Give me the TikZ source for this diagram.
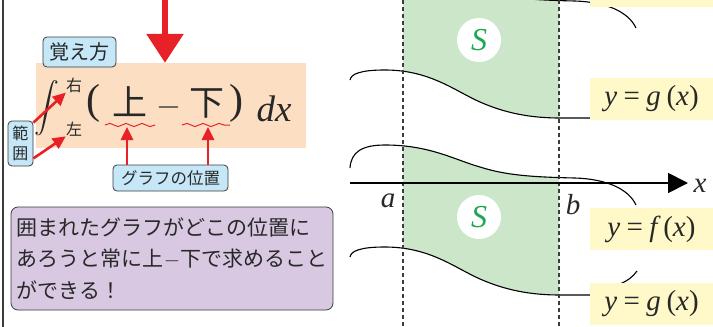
\RequirePackage{fix-cm}
\documentclass[tikz,border=0pt]{standalone}
\usepackage{exscale}
\usepackage{fontspec}
\newfontfamily\jp{Noto Sans CJK JP}
\newfontfamily\tms{Liberation Serif}
\usetikzlibrary{arrows.meta,decorations.pathmorphing}
\definecolor{myred}{RGB}{232,32,40}
\definecolor{peach}{RGB}{252,223,195}
\definecolor{lblue}{RGB}{197,231,247}
\definecolor{lpurple}{RGB}{216,200,226}
\definecolor{lgreen}{RGB}{204,230,201}
\definecolor{sgreen}{RGB}{30,168,80}
\definecolor{lyellow}{RGB}{255,249,201}
\definecolor{dgray}{RGB}{60,60,60}
\definecolor{tgray}{RGB}{40,40,40}
\newcommand\myfs[1]{\fontsize{#1}{#1}\selectfont}
\newcommand\eqlab[1]{\itshape y\hspace{0.22em}\upshape=\hspace{0.22em}\itshape #1\hspace{0.2em}\upshape(\itshape x\upshape)}
\def\fcurve{(350,168) .. controls (351,152) and (362,145) .. (385,145) .. controls (430,145) and (455,160) .. (480,167) .. controls (505,175) and (530,177) .. (575,178) .. controls (605,179) and (628,188) .. (636,205)}
\def\gcurve{(350,257) .. controls (351,251) and (360,247) .. (385,247) .. controls (430,247) and (455,268) .. (480,279) .. controls (505,290) and (530,295) .. (560,295) -- (595,295)}
\def\farc{(637,271) .. controls (633,277) and (627,281) .. (620,284)}
\newcommand\mygraph{%
  \begin{scope}
    \clip (403,-400) rectangle (559,500);
    \clip \gcurve -- (595,-400) -- (350,-400) -- cycle;
    \fill[lgreen] \fcurve -- (636,500) -- (350,500) -- cycle;
  \end{scope}
  \draw[crv] \fcurve;
  \draw[crv] \gcurve;
  \draw[crv] \farc;
}
\begin{document}
\begin{tikzpicture}[x=1pt,y=-1pt,
  bluebox/.style={draw=dgray, fill=lblue, rounded corners=4pt, line width=0.8pt, inner sep=0pt, text=tgray},
  ybox/.style={fill=lyellow, minimum width=123pt, minimum height=42pt, inner sep=0pt, font={\tms\myfs{29}}, text=tgray},
  scirc/.style={circle, fill=white, minimum size=44pt, inner sep=0pt, text=sgreen, font={\tms\itshape\myfs{32}}},
  redarr/.style={draw=myred, line width=2.6pt, -{Triangle[length=13pt,width=12pt]}},
  bigarr/.style={draw=myred, line width=6pt, -{Triangle[length=29pt,width=36pt]}},
  wave/.style={draw=myred, line width=1pt, decorate, decoration={snake, segment length=16pt, amplitude=1.6pt}},
  crv/.style={line width=1.1pt, black},
  vdash/.style={draw=dgray, line width=1.2pt, dash pattern=on 4pt off 3pt},
  axisline/.style={line width=1.8pt, -{Triangle[length=20pt,width=20pt]}},
  cjk/.style={font={\jp\myfs{#1}}, text=tgray, inner sep=0pt},
  mth/.style={font={\myfs{#1}}, inner sep=0pt, text=tgray},
  lat/.style={font={\tms\itshape\myfs{#1}}, inner sep=0pt, text=tgray},
  latup/.style={font={\tms\myfs{#1}}, inner sep=0pt, text=tgray}]
\useasboundingbox (0,0) rectangle (713,327);
\clip (0,0) rectangle (713,327);
% left border
\draw[line width=2pt, dgray] (3,0) -- (3,327);
% peach background
\node[fill=peach, minimum width=270pt, minimum height=85pt, inner sep=0pt] (peach) at (171,105.5) {};
% big arrow
\coordinate (bigtop) at (165,-2);
\draw[bigarr] (bigtop) -- (bigtop |- peach.north);
% label boxes
\node[bluebox, minimum width=73pt, minimum height=30pt, font={\jp\myfs{20}}] (oboe) at (79.5,52) {覚え方};
\node[bluebox, minimum width=25pt, minimum height=45pt, align=center, font={\jp\fontsize{16}{20}\selectfont}] (hanni) at (20.5,143.5) {範\\囲};
\node[bluebox, minimum width=115pt, minimum height=26pt, font={\jp\myfs{16.5}}] (gbox) at (170.5,178) {グラフの位置};
% formula
\node[mth=26] (int) at (47,108) {$\displaystyle\int$};
\node[cjk=16] (r) at (74,85) {右};
\node[cjk=16] (l) at (74,129) {左};
\node[latup=42] (lp) at (93,103) {(};
\node[cjk=35] (ue) at (130,102) {上};
\node[mth=32] (minus) at (169,107) {$-$};
\node[cjk=35] (shita) at (207,103) {下};
\node[latup=42] (rp) at (236,103) {)};
\node[lat=37] (dx) at (274,108.5) {dx};
% wavy underlines
\coordinate (w1a) at (105,125);
\coordinate (w1b) at (155,125);
\coordinate (w2a) at (182,125);
\coordinate (w2b) at (230,125);
\coordinate (w1) at (127,127);
\coordinate (w2) at (208,127);
\draw[wave] (w1a) -- (w1b);
\draw[wave] (w2a) -- (w2b);
% red arrows
\draw[redarr] (gbox.north -| w1) -- (w1);
\draw[redarr] (gbox.north -| w2) -- (w2);
\draw[redarr] ([yshift=-2pt]hanni.north east) -- (r.south west);
\draw[redarr] ([yshift=8pt]hanni.south east) -- (l.south west);
% purple note
\node[draw=dgray, fill=lpurple, rounded corners=7pt, line width=0.8pt, minimum width=322pt, minimum height=103pt, inner sep=0pt, align=left, font={\jp\fontsize{21}{31.5}\selectfont}, text=tgray] (pbox) at (172,258.5) {囲まれたグラフがどこの位置に\\あろうと常に上$-$下で求めること\\ができる！};
% graphs
\begin{scope}[shift={(0,-177)}]
  \mygraph
\end{scope}
\mygraph
% dashed lines
\coordinate (da0) at (403,0);
\coordinate (da1) at (403,327);
\coordinate (db0) at (559,0);
\coordinate (db1) at (559,327);
\draw[vdash] (da0) -- (da1);
\draw[vdash] (db0) -- (db1);
% axis
\coordinate (ax0) at (350,183);
\coordinate (ax1) at (688,183);
\draw[axisline] (ax0) -- (ax1);
\node[lat=29] (xl) at (700,186) {x};
\node[lat=29] (al) at (388,201) {a};
\node[lat=29] (bl) at (573,205) {b};
% S circles
\node[scirc] (s1) at (479,40) {S};
\node[scirc] (s2) at (479,217) {S};
% function labels
\node[ybox] (ft) at (651.5,-14) {\eqlab{f}};
\node[ybox] (gt) at (651.5,99) {\eqlab{g}};
\node[ybox] (fb) at (651.5,229) {\eqlab{f}};
\node[ybox] (gb) at (651.5,304) {\eqlab{g}};
\end{tikzpicture}
\end{document}
